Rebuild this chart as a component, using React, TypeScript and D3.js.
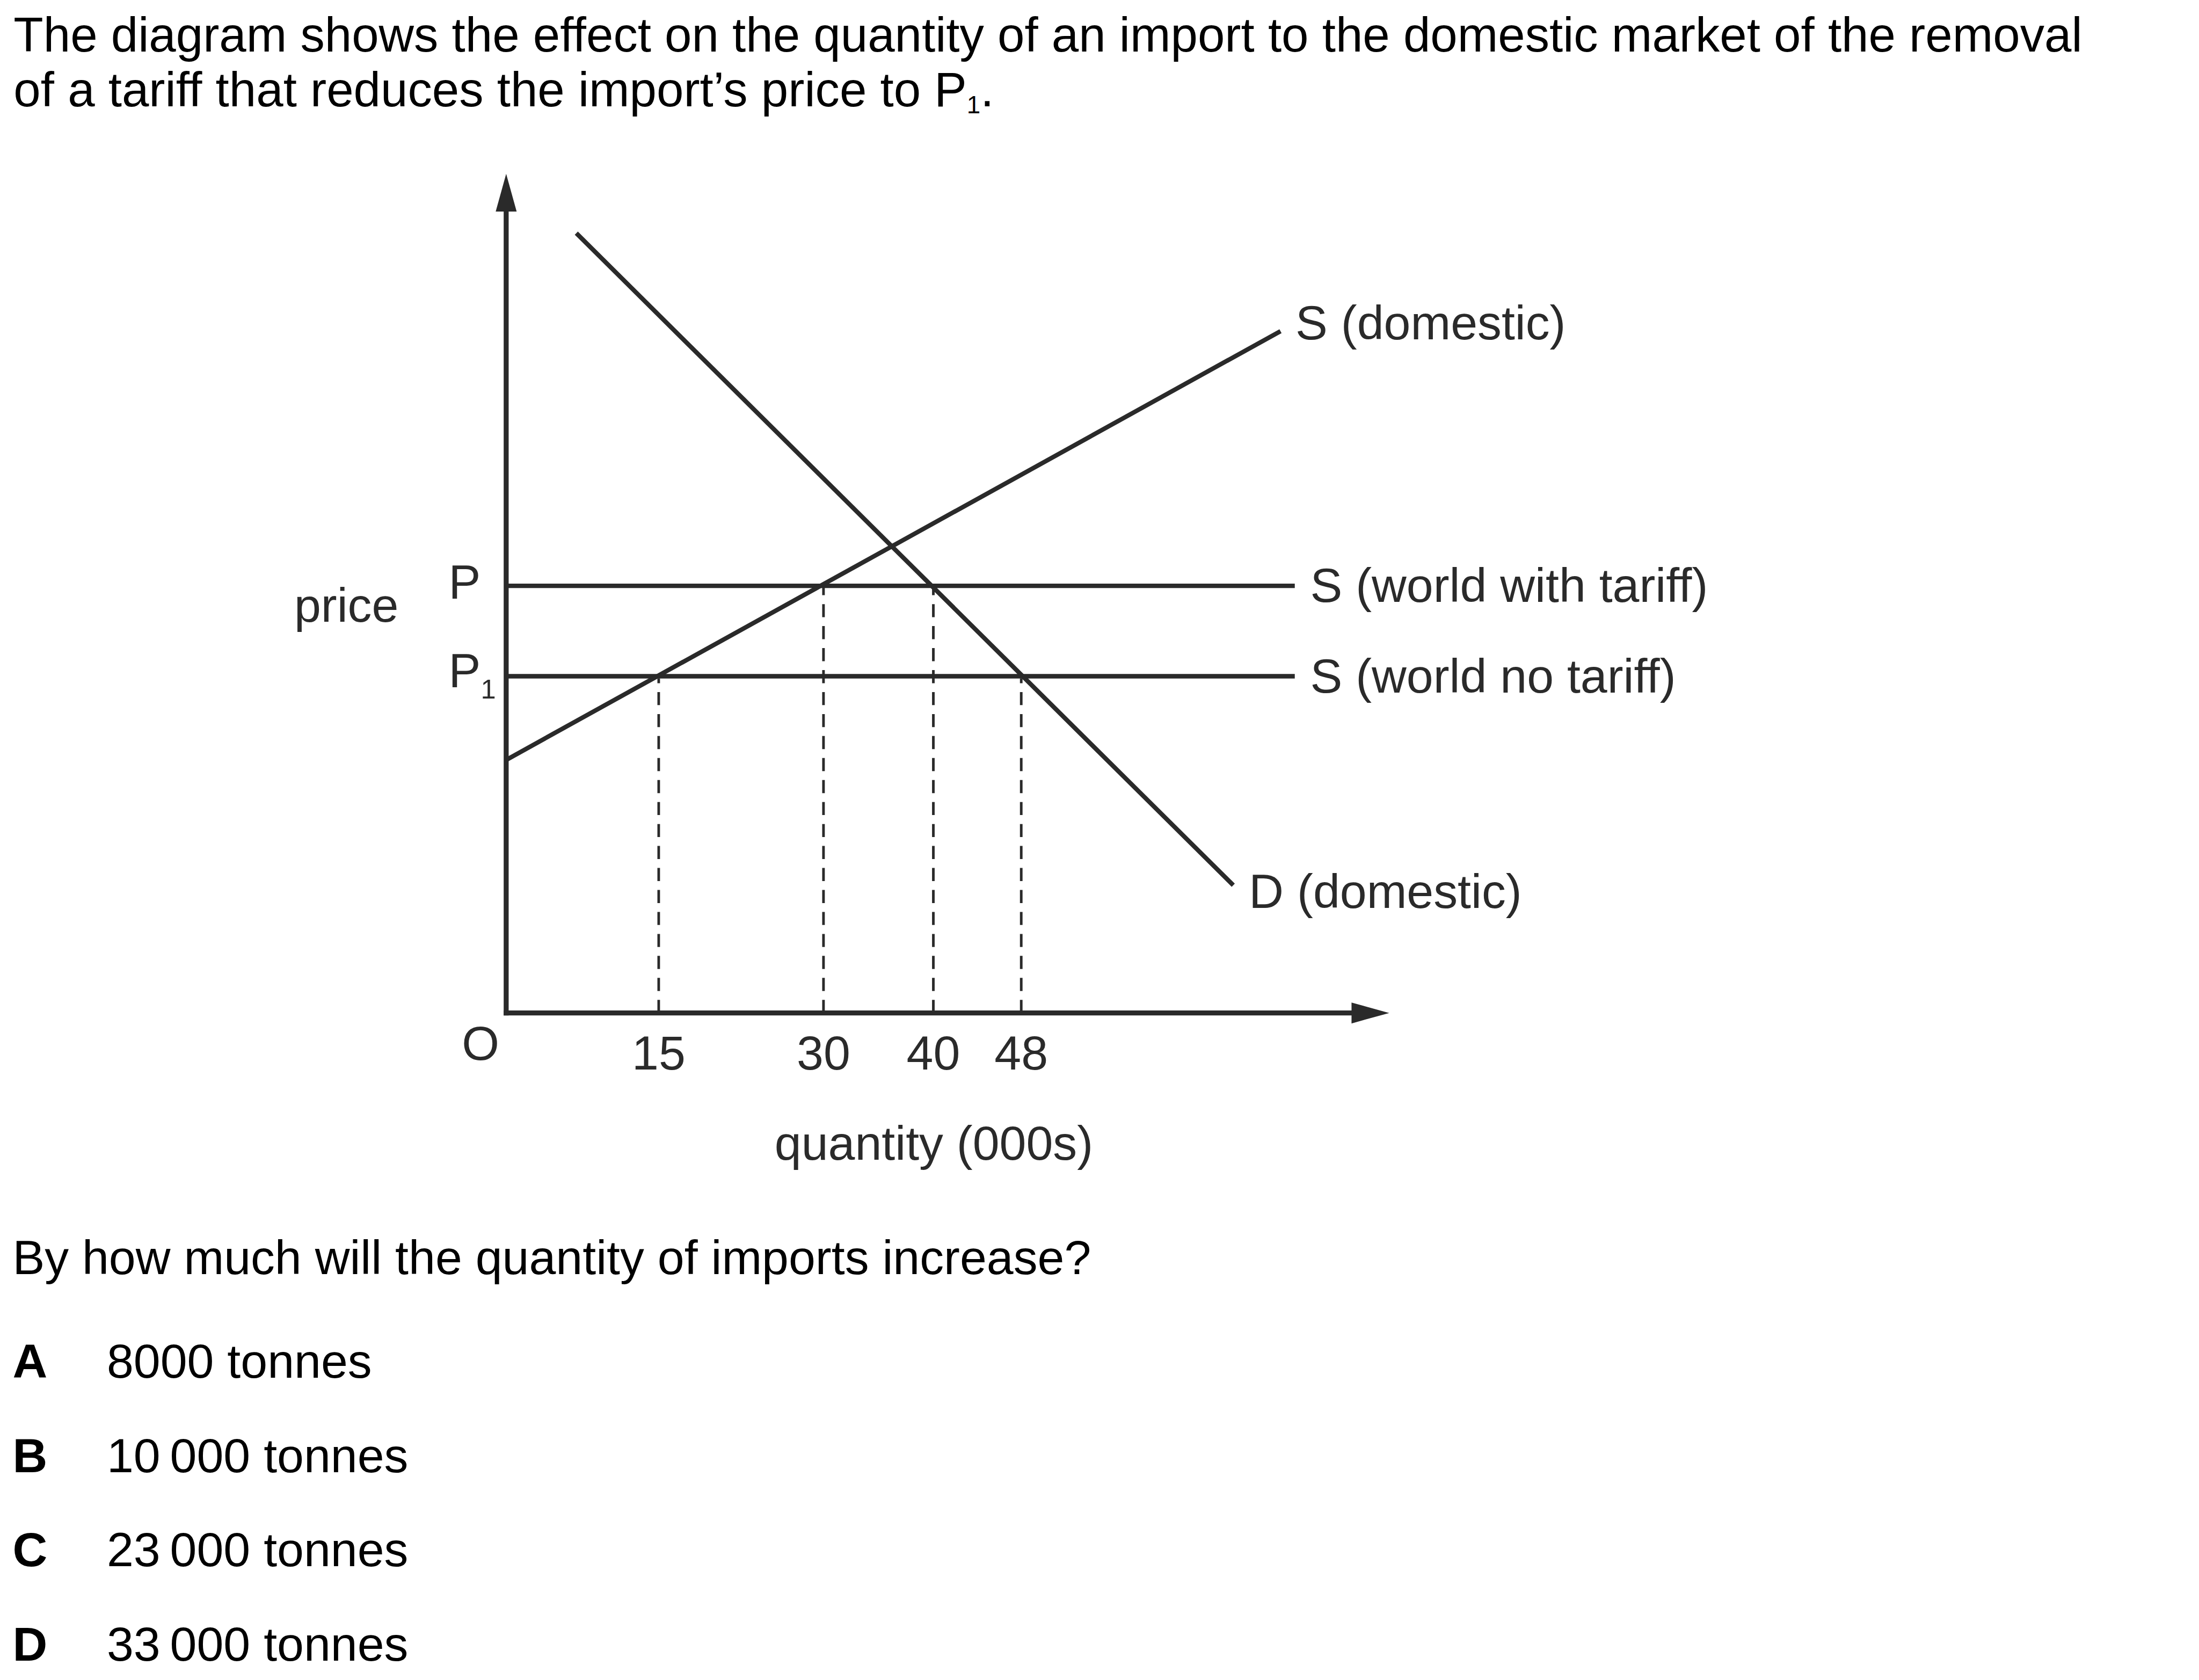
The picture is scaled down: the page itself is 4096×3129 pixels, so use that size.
import React, { useRef, useEffect } from 'react';
import * as d3 from 'd3';

// page size and the scale from the reference drawing
const width = 4096;
const height = 3129;
const k = 0.975;

const font = 'Liberation Sans, Arial, sans-serif';
const ink = '#2a2a2a';
const fs = 92;

// text
const titleLines = [
  'The diagram shows the effect on the quantity of an import to the domestic market of the removal',
  'of a tariff that reduces the import\u2019s price to P',
];
const question = 'By how much will the quantity of imports increase?';
const optionLetters = ['A', 'B', 'C', 'D'];
const optionAnswers = ['8000 tonnes', '10\u2009000 tonnes', '23\u2009000 tonnes', '33\u2009000 tonnes'];

// quantities (000s) marked on the axis
const quantityTicks = [15, 30, 40, 48];
// price levels: P (with tariff) and P1 (no tariff)
const worldPrices = [51, 40.2];
const worldLabels = ['S (world with tariff)', 'S (world no tariff)'];
const worldEnd = 72.9;
// curves as [quantity, price]
const supplyDomestic: [number, number][] = [
  [1.1, 30.2],
  [71.6, 81.4],
];
const demandDomestic: [number, number][] = [
  [7.5, 93.1],
  [67.3, 15.25],
];
// dashed drops: quantity and the price line they reach
const dropQ = [15, 30, 40, 48];
const dropP = [40.2, 51, 51, 40.2];

const App: React.FC = () => {
  const svgRef = useRef<SVGSVGElement | null>(null);

  useEffect(() => {
    if (!svgRef.current) return;
    d3.select(svgRef.current).selectAll('*').remove();

    const svg = d3
      .select(svgRef.current)
      .attr('width', width)
      .attr('height', height);

    const g = svg.append('g').attr('transform', `scale(${k})`);

    // scales (reference pixel space)
    const x = d3.scaleLinear().domain([0, 48]).range([943.6, 1951]);
    const y = d3.scaleLinear().domain([0, 100]).range([1935, 335]);
    const axisX = 967;
    const axisY = y(0);

    // title
    g.append('text')
      .attr('x', 26)
      .attr('y', 98)
      .attr('font-family', font)
      .attr('font-size', 93)
      .attr('fill', '#000')
      .text(titleLines[0]);

    const t2 = g
      .append('text')
      .attr('x', 26)
      .attr('y', 203)
      .attr('font-family', font)
      .attr('font-size', 93)
      .attr('fill', '#000');
    t2.append('tspan').text(titleLines[1]);
    t2.append('tspan').attr('font-size', 47).attr('dy', 13).text('1');
    t2.append('tspan').attr('dy', -13).text('.');

    // dashed drop lines
    g.selectAll('line.drop')
      .data(dropQ)
      .join('line')
      .attr('class', 'drop')
      .attr('x1', (d) => x(d))
      .attr('x2', (d) => x(d))
      .attr('y1', axisY)
      .attr('y2', (d, i) => y(dropP[i]) + 4)
      .attr('stroke', ink)
      .attr('stroke-width', 5)
      .attr('stroke-dasharray', '25 17');

    // world supply lines
    g.selectAll('line.world')
      .data(worldPrices)
      .join('line')
      .attr('class', 'world')
      .attr('x1', axisX)
      .attr('x2', x(worldEnd))
      .attr('y1', (d) => y(d))
      .attr('y2', (d) => y(d))
      .attr('stroke', ink)
      .attr('stroke-width', 8.5);

    // domestic supply and demand
    const line = d3
      .line<[number, number]>()
      .x((d) => x(d[0]))
      .y((d) => y(d[1]));

    [supplyDomestic, demandDomestic].forEach((pts) => {
      g.append('path')
        .attr('d', line(pts))
        .attr('fill', 'none')
        .attr('stroke', ink)
        .attr('stroke-width', 8.5);
    });

    // axes with arrow heads
    g.append('line')
      .attr('x1', axisX)
      .attr('x2', axisX)
      .attr('y1', axisY + 4.75)
      .attr('y2', 400)
      .attr('stroke', ink)
      .attr('stroke-width', 9.5);
    g.append('path')
      .attr('d', `M${axisX},332 L${axisX - 20},404 L${axisX + 20},404 Z`)
      .attr('fill', ink);

    g.append('line')
      .attr('x1', axisX - 4.75)
      .attr('x2', 2586)
      .attr('y1', axisY)
      .attr('y2', axisY)
      .attr('stroke', ink)
      .attr('stroke-width', 9.5);
    g.append('path')
      .attr('d', `M2654,${axisY} L2582,${axisY - 20} L2582,${axisY + 20} Z`)
      .attr('fill', ink);

    const label = (tx: number, ty: number, s: string, anchor = 'start') =>
      g
        .append('text')
        .attr('x', tx)
        .attr('y', ty)
        .attr('font-family', font)
        .attr('font-size', fs)
        .attr('fill', ink)
        .attr('text-anchor', anchor)
        .text(s);

    // tick labels
    g.selectAll('text.tick')
      .data(quantityTicks)
      .join('text')
      .attr('class', 'tick')
      .attr('x', (d) => x(d))
      .attr('y', 2043)
      .attr('font-family', font)
      .attr('font-size', fs)
      .attr('fill', ink)
      .attr('text-anchor', 'middle')
      .text((d) => d);

    label(918, 2025, 'O', 'middle');
    label(1784, 2215, 'quantity (000s)', 'middle');
    label(562, 1188, 'price');
    label(857, y(worldPrices[0]) + 25, 'P');
    const p1 = label(857, y(worldPrices[1]) + 21, 'P');
    p1.append('tspan').attr('font-size', 52).attr('dy', 22).text('1');

    // curve labels
    label(2475, 648, 'S (domestic)');
    label(2386, 1734, 'D (domestic)');
    g.selectAll('text.world')
      .data(worldLabels)
      .join('text')
      .attr('class', 'world')
      .attr('x', 2503)
      .attr('y', (d, i) => y(worldPrices[i]) + 31)
      .attr('font-family', font)
      .attr('font-size', fs)
      .attr('fill', ink)
      .text((d) => d);

    // question and options
    g.append('text')
      .attr('x', 24)
      .attr('y', 2434)
      .attr('font-family', font)
      .attr('font-size', fs)
      .attr('fill', '#000')
      .text(question);

    const opt = g
      .selectAll('g.opt')
      .data(optionLetters)
      .join('g')
      .attr('class', 'opt')
      .attr('transform', (d, i) => `translate(0,${2632 + i * 180})`);
    opt
      .append('text')
      .attr('x', 24)
      .attr('font-family', font)
      .attr('font-size', fs)
      .attr('font-weight', 'bold')
      .attr('fill', '#000')
      .text((d) => d);
    opt
      .append('text')
      .attr('x', 204)
      .attr('font-family', font)
      .attr('font-size', fs)
      .attr('fill', '#000')
      .text((d, i) => optionAnswers[i]);
  }, []);

  return (
    <svg
      ref={svgRef}
      style={{ position: 'absolute', left: 0, top: 0, background: '#fff' }}
    ></svg>
  );
};

export default App;
